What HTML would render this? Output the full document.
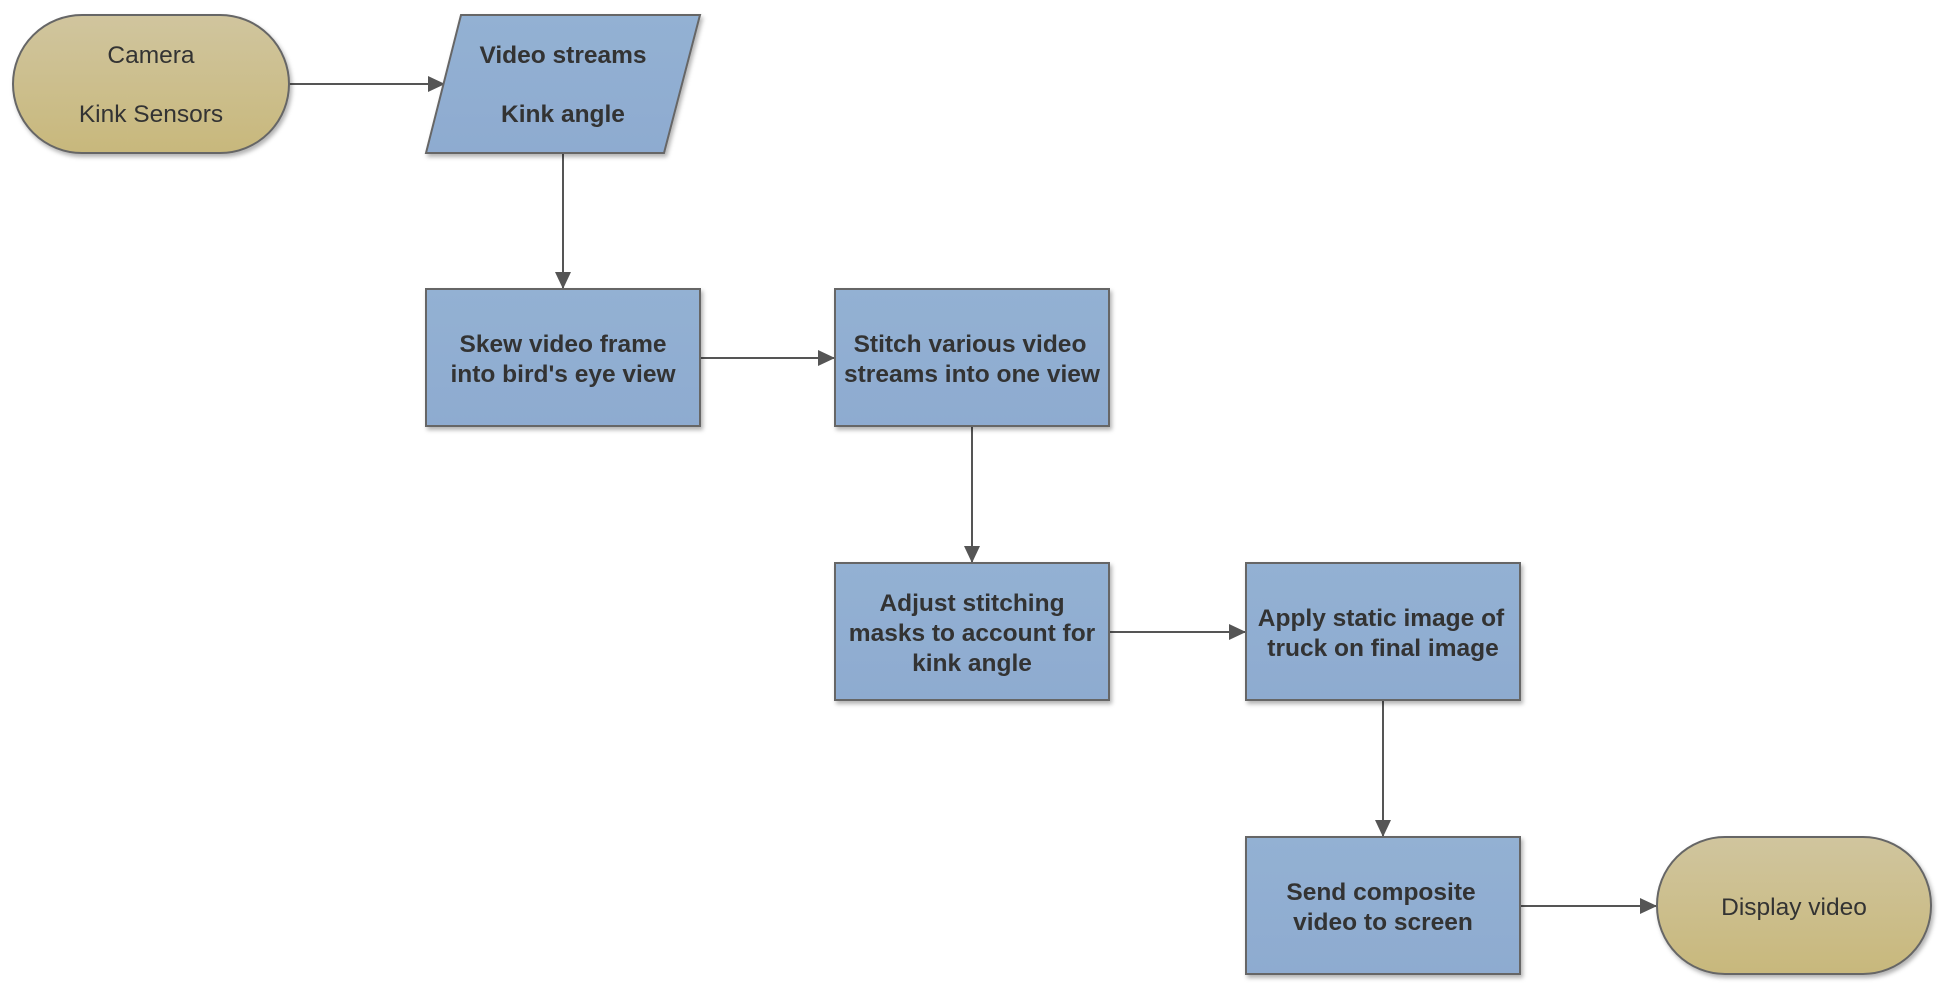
<!DOCTYPE html>
<html><head><meta charset="utf-8"><style>
html,body{margin:0;padding:0;background:#fff;}
svg{display:block;}
text{font-family:"Liberation Sans",Arial,sans-serif;fill:#333;font-size:24.5px;text-anchor:middle;}
.b{font-weight:bold;font-size:24.5px;}
</style></head><body>
<svg width="1952" height="998" viewBox="0 0 1952 998" xmlns="http://www.w3.org/2000/svg">
<defs>
<linearGradient id="tan" x1="0" y1="0" x2="0" y2="1"><stop offset="0" stop-color="#d0c59e"/><stop offset="1" stop-color="#c8b87c"/></linearGradient>
<linearGradient id="blu" x1="0" y1="0" x2="0" y2="1"><stop offset="0" stop-color="#93b1d3"/><stop offset="1" stop-color="#8eabd0"/></linearGradient>
<filter id="sh" x="-10%" y="-10%" width="130%" height="130%"><feDropShadow dx="2" dy="3" stdDeviation="2" flood-color="#000" flood-opacity="0.3"/></filter>
<marker id="ar" markerWidth="18" markerHeight="18" refX="17" refY="8" orient="auto" markerUnits="userSpaceOnUse"><path d="M0,0 L17,8 L0,16 z" fill="#555"/></marker>
</defs>
<g stroke="#555" stroke-width="2" fill="none">
<line x1="289" y1="84" x2="445" y2="84" marker-end="url(#ar)"/>
<line x1="563" y1="153" x2="563" y2="289" marker-end="url(#ar)"/>
<line x1="700" y1="358" x2="835" y2="358" marker-end="url(#ar)"/>
<line x1="972" y1="426" x2="972" y2="563" marker-end="url(#ar)"/>
<line x1="1109" y1="632" x2="1246" y2="632" marker-end="url(#ar)"/>
<line x1="1383" y1="700" x2="1383" y2="837" marker-end="url(#ar)"/>
<line x1="1520" y1="906" x2="1657" y2="906" marker-end="url(#ar)"/>
</g>
<g stroke="#666" stroke-width="2" filter="url(#sh)">
<rect x="13" y="15" width="276" height="138" rx="69" fill="url(#tan)"/>
<polygon points="461,15 700,15 664,153 426,153" fill="url(#blu)"/>
<rect x="426" y="289" width="274" height="137" fill="url(#blu)"/>
<rect x="835" y="289" width="274" height="137" fill="url(#blu)"/>
<rect x="835" y="563" width="274" height="137" fill="url(#blu)"/>
<rect x="1246" y="563" width="274" height="137" fill="url(#blu)"/>
<rect x="1246" y="837" width="274" height="137" fill="url(#blu)"/>
<rect x="1657" y="837" width="274" height="137" rx="68" fill="url(#tan)"/>
</g>
<text x="151" y="63">Camera</text>
<text x="151" y="122">Kink Sensors</text>
<text class="b" x="563" y="63">Video streams</text>
<text class="b" x="563" y="122">Kink angle</text>
<text class="b" x="563" y="352">Skew video frame</text>
<text class="b" x="563" y="382">into bird's eye view</text>
<text class="b" x="970" y="352">Stitch various video</text>
<text class="b" x="972" y="382">streams into one view</text>
<text class="b" x="972" y="611">Adjust stitching</text>
<text class="b" x="972" y="641">masks to account for</text>
<text class="b" x="972" y="671">kink angle</text>
<text class="b" x="1381" y="626">Apply static image of</text>
<text class="b" x="1383" y="656">truck on final image</text>
<text class="b" x="1381" y="900">Send composite</text>
<text class="b" x="1383" y="930">video to screen</text>
<text x="1794" y="915">Display video</text>
</svg>
</body></html>
